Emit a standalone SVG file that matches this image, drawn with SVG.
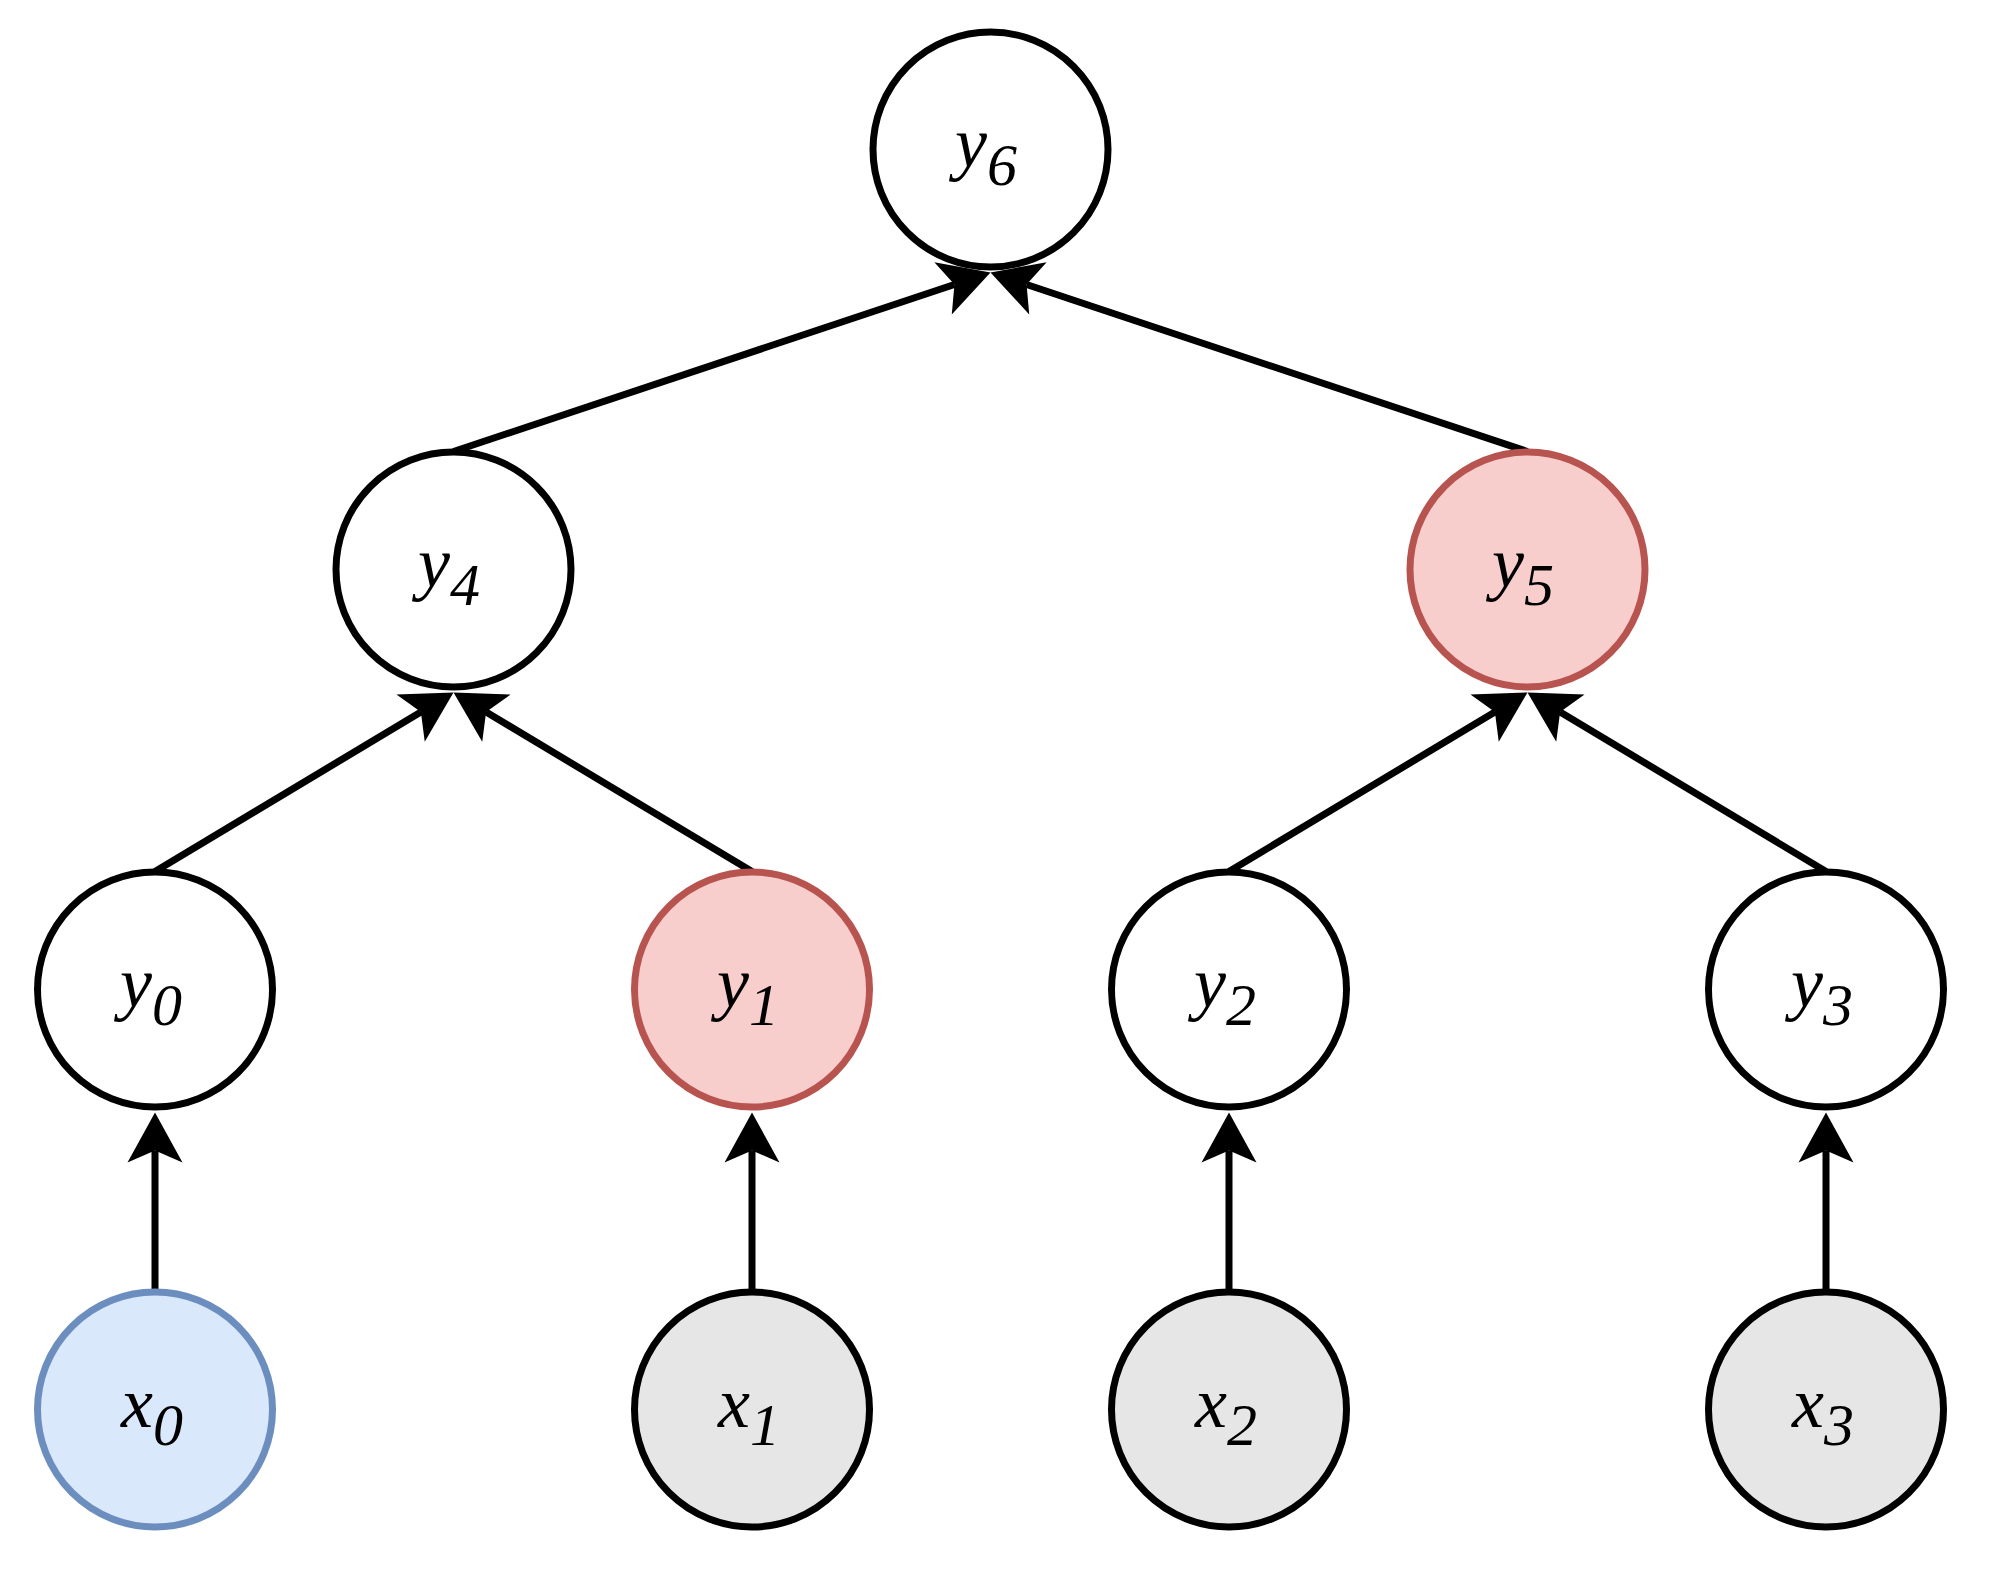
<svg xmlns="http://www.w3.org/2000/svg" width="1996" height="1578" viewBox="0 0 1996 1578">
<style>
.n{stroke:#000;stroke-width:7;fill:#fff}
.r{fill:#f8cecc;stroke:#b85450}
.b{fill:#dae8fc;stroke:#6c8ebf}
.g{fill:#e6e6e6}
.t{font-family:"Liberation Serif","Times New Roman",Times,serif;font-style:italic;font-size:72px;fill:#000;text-anchor:middle}
.s{font-size:60px}
.e{stroke:#000;stroke-width:7;fill:none;marker-end:url(#a)}
</style>
<defs>
<marker id="a" markerUnits="userSpaceOnUse" viewBox="-15 -30 56 60" markerWidth="56" markerHeight="60" refX="0" refY="0" orient="auto" overflow="visible">
<path d="M38,0 L-12,-27.5 L0,0 L-12,27.5 Z" fill="#000"/>
</marker>
</defs>
<rect width="1996" height="1578" fill="#fff"/>
<g id="connectors">
<path class="e" d="M155,1291.5 L155,1150.5"/>
<path class="e" d="M752,1291.5 L752,1150.5"/>
<path class="e" d="M1229,1291.5 L1229,1150.5"/>
<path class="e" d="M1826,1291.5 L1826,1150.5"/>
<path class="e" d="M155,871.5 L420.9,712"/>
<path class="e" d="M752,871.5 L486.1,712"/>
<path class="e" d="M1229,871.5 L1494.9,712"/>
<path class="e" d="M1826,871.5 L1560.1,712"/>
<path class="e" d="M453.5,451.5 L954.45,284.5"/>
<path class="e" d="M1527.5,451.5 L1026.55,284.5"/>
</g>
<g id="y6"><circle class="n" cx="990.5" cy="149.5" r="117.5"/><text class="t" x="986" y="166.5">y<tspan class="s" dy="18">6</tspan></text></g>
<g id="y4"><circle class="n" cx="453.5" cy="569.5" r="117.5"/><text class="t" x="449" y="586.5">y<tspan class="s" dy="18">4</tspan></text></g>
<g id="y5"><circle class="n r" cx="1527.5" cy="569.5" r="117.5"/><text class="t" x="1523" y="586.5">y<tspan class="s" dy="18">5</tspan></text></g>
<g id="y0"><circle class="n" cx="155" cy="989.5" r="117.5"/><text class="t" x="151" y="1006.5">y<tspan class="s" dy="18">0</tspan></text></g>
<g id="y1"><circle class="n r" cx="752" cy="989.5" r="117.5"/><text class="t" x="748" y="1006.5">y<tspan class="s" dy="18">1</tspan></text></g>
<g id="y2"><circle class="n" cx="1229" cy="989.5" r="117.5"/><text class="t" x="1225" y="1006.5">y<tspan class="s" dy="18">2</tspan></text></g>
<g id="y3"><circle class="n" cx="1826" cy="989.5" r="117.5"/><text class="t" x="1822" y="1006.5">y<tspan class="s" dy="18">3</tspan></text></g>
<g id="x0"><circle class="n b" cx="155" cy="1409.5" r="117.5"/><text class="t" x="152" y="1426.5">x<tspan class="s" dy="18">0</tspan></text></g>
<g id="x1"><circle class="n g" cx="752" cy="1409.5" r="117.5"/><text class="t" x="749" y="1426.5">x<tspan class="s" dy="18">1</tspan></text></g>
<g id="x2"><circle class="n g" cx="1229" cy="1409.5" r="117.5"/><text class="t" x="1226" y="1426.5">x<tspan class="s" dy="18">2</tspan></text></g>
<g id="x3"><circle class="n g" cx="1826" cy="1409.5" r="117.5"/><text class="t" x="1823" y="1426.5">x<tspan class="s" dy="18">3</tspan></text></g>
</svg>
